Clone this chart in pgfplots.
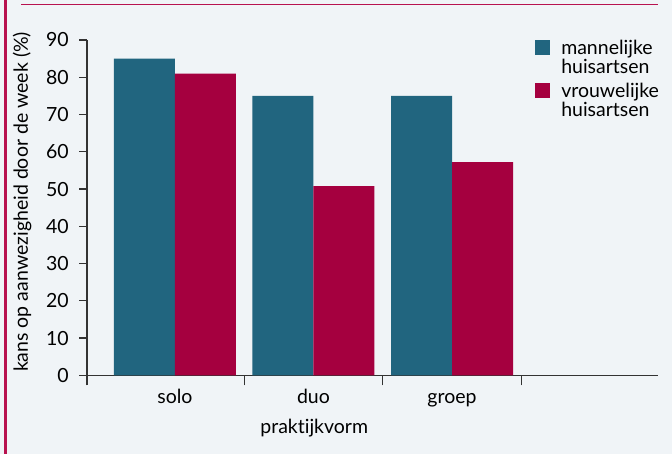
\documentclass[border=0pt]{standalone}
\usepackage{pgfplots}
\pgfplotsset{compat=1.18}
\usepackage{fontspec}
\setmainfont{Lato}[Ligatures=NoCommon]
\definecolor{bg}{HTML}{F0F4F7}
\definecolor{mblue}{HTML}{21657F}
\definecolor{vred}{HTML}{A5003F}
\definecolor{frame}{HTML}{B8124F}
\definecolor{axc}{HTML}{333333}
\begin{document}
\begin{tikzpicture}[x=1bp,y=1bp]
\useasboundingbox (0,0) rectangle (672,454);
\fill[bg] (0,0) rectangle (672,454);
\fill[frame] (3.5,0) rectangle (6.5,454);
\draw[frame, line width=1.5bp] (21,449.5) -- (658,449.5);
\begin{axis}[
  at={(87bp,78.7bp)}, anchor=south west,
  scale only axis, width=571bp, height=335.3bp,
  font=\fontsize{19.5bp}{19bp}\selectfont,
  /pgf/number format/assume math mode=true,
  xmin=-0.635, xmax=3.487, ymin=0, ymax=90,
  axis x line=bottom, axis y line=left,
  axis line style={draw=axc, line width=1.3bp, -},
  ybar=0pt, bar width=61bp,
  xtick={0,1,2}, xticklabels={solo,duo,groep},
  minor xtick={-0.635,0.5,1.5,2.5},
  ytick={0,10,...,90},
  tick align=outside,
  major tick length=8bp, minor tick length=10bp,
  xtick style={draw=none},
  minor x tick style={draw=axc, line width=1.3bp},
  ytick style={draw=axc, line width=1.3bp},
  yticklabel style={inner xsep=0pt, xshift=-10bp},
  xticklabel style={anchor=base, yshift=-20bp},
  xlabel={praktijkvorm},
  xlabel style={at={(rel axis cs:0.398,-0.1721)}, anchor=base},
  ylabel={kans op aanwezigheid door de week (\%)},
  ylabel style={at={(rel axis cs:-0.1138,0.517)}, anchor=center},
  legend style={at={(rel axis cs:0.785,1.0)}, anchor=north west,
    draw=none, fill=none, inner sep=0pt, outer sep=0pt,
    /tikz/row sep=8.5bp, /tikz/column sep=11bp,
    nodes={inner sep=0pt, align=left, anchor=north west,
      font=\fontsize{19.5bp}{19bp}\selectfont}},
  legend cell align=left,
  legend image code/.code={\fill[#1] (0bp,0bp) rectangle (15bp,-15bp);},
]
\addplot[fill=mblue, draw=none] coordinates {(0,85) (1,75) (2,75)};
\addplot[fill=vred, draw=none] coordinates {(0,81) (1,50.8) (2,57.2)};
\legend{mannelijke\\huisartsen, vrouwelijke\\huisartsen}
\end{axis}
\end{tikzpicture}
\end{document}
